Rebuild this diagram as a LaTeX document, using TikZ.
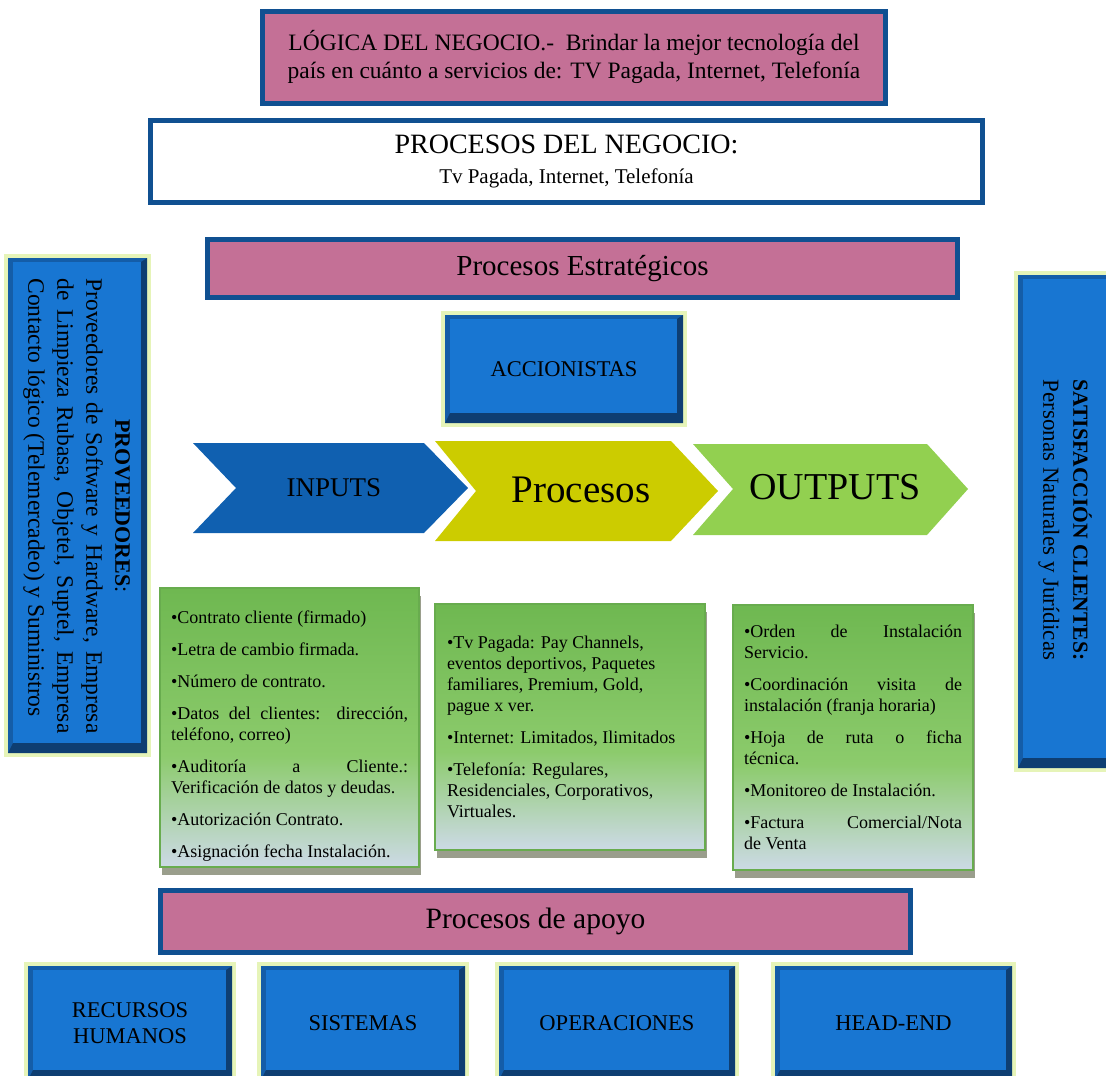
\documentclass[tikz,border=0pt]{standalone}
\usepackage{fontspec}
\setmainfont{Liberation Serif}
\usetikzlibrary{positioning}
\usetikzlibrary{shadows}
\definecolor{frameblue}{HTML}{105091}
\definecolor{pinkfill}{HTML}{C47096}
\definecolor{boxblue}{HTML}{1876D2}
\definecolor{bevmid}{HTML}{145DA8}
\definecolor{bevdark}{HTML}{0E3E72}
\definecolor{glowcol}{HTML}{E6F4B8}
\definecolor{inblue}{HTML}{1060B0}
\definecolor{procyellow}{HTML}{CCCC00}
\definecolor{outgreen}{HTML}{92D050}
\definecolor{topgreen}{HTML}{56A83A}
\definecolor{midgreen}{HTML}{8CCB6C}
\definecolor{fadelav}{HTML}{D6DCF8}
\definecolor{fadeblue}{HTML}{C6ECFF}
\definecolor{listedge}{HTML}{68AC4E}
\definecolor{shadowgray}{HTML}{9A9E8C}
\pgfdeclareverticalshading{greenfade}{100bp}{color(0bp)=(fadeblue); color(22bp)=(fadelav); color(45bp)=(midgreen); color(100bp)=(topgreen)}
\newcommand{\fsz}[2]{\fontsize{#1}{#2}\selectfont}
\newcommand{\bitem}{\par\vspace{11pt}\noindent\textbullet}
\newcommand{\nohyph}{\hyphenpenalty=10000\exhyphenpenalty=10000}
\tikzset{
framed/.style={
  draw=frameblue,
  line width=5pt,
  inner sep=0pt,
  align=center
  },
pinkbox/.style={framed, fill=pinkfill},
whitebox/.style={framed, fill=white},
bevel/.style={
  fill=bevmid,
  inner sep=0pt,
  align=center,
  preaction={draw=glowcol, line width=8pt},
  path picture={
    \fill[bevdark] (path picture bounding box.south west) -- (path picture bounding box.south east)
      -- (path picture bounding box.north east) -- ([shift={(-6pt,-4pt)}]path picture bounding box.north east)
      -- ([shift={(-6pt,10pt)}]path picture bounding box.south east) -- ([shift={(5pt,10pt)}]path picture bounding box.south west) -- cycle;
    \fill[boxblue] ([shift={(5pt,-4pt)}]path picture bounding box.north west) rectangle ([shift={(-6pt,10pt)}]path picture bounding box.south east);
    }
  },
listbox/.style={
  draw=listedge,
  line width=1.5pt,
  shading=greenfade,
  drop shadow={shadow xshift=2pt, shadow yshift=-8pt, fill=shadowgray, opacity=1},
  inner sep=0pt
  }
}
\begin{document}
\begin{tikzpicture}[x=1pt,y=-1pt]
\useasboundingbox (0,0) rectangle (1106,1076);
\clip (0,0) rectangle (1106,1076);
% cabecera
\node[pinkbox, minimum width=623pt, minimum height=92pt, font=\fsz{23.5}{28}] (logica) at (574,57)
  {LÓGICA DEL NEGOCIO.-\ \ Brindar la mejor tecnología del\\país en cuánto a servicios de: TV Pagada, Internet, Telefonía};
\node[whitebox, minimum width=832pt, minimum height=82pt, font=\fsz{21}{30}] (negocio) at (566.5,161.5)
  {{\fsz{28}{30}PROCESOS DEL NEGOCIO:}\\Tv Pagada, Internet, Telefonía};
\node[pinkbox, minimum width=750pt, minimum height=58pt, font=\fsz{29}{32}] (estrat) at (582.5,268.5) {Procesos Estratégicos};
\node[bevel, minimum width=238pt, minimum height=108pt, font=\fsz{22.5}{26}] (accion) at (564,369) {ACCIONISTAS};

% laterales
\node[bevel, minimum width=139pt, minimum height=495pt] (prov) at (77.5,505.5) {};
\node[rotate=-90, text width=455pt, align=justify, font=\fsz{23.5}{29}] (provtxt) at (76.5,506)
  {\makebox[\linewidth]{\fsz{22}{29}\textbf{PROVEEDORES}:}\par\noindent
   Proveedores de Software y Hardware, Empresa\linebreak de Limpieza Rubasa, Objetel, Suptel, Empresa\linebreak Contacto lógico (Telemercadeo) y Suministros};
\node[bevel, minimum width=107pt, minimum height=493pt] (satis) at (1071.5,521.5) {};
\node[rotate=-90, align=center, font=\fsz{23}{30}] (satistxt) at (1065,520)
  {{\fsz{21.5}{30}\textbf{SATISFACCIÓN CLIENTES:}}\\Personas Naturales y Jurídicas};

% flechas
\fill[inblue] (193,443) -- (424,443) -- (468,488) -- (424,533) -- (193,533) -- (236,488) -- cycle;
\fill[procyellow] (435,441) -- (671,441) -- (718,491) -- (671,541) -- (435,541) -- (476,491) -- cycle;
\fill[outgreen] (693,444) -- (927,444) -- (968,489) -- (927,535) -- (693,535) -- (733,489) -- cycle;
\node[font=\fsz{27}{30}] (inputs) at (334,488) {INPUTS};
\node[font=\fsz{39}{42}] (procesos) at (581,490) {Procesos};
\node[font=\fsz{38}{42}] (outputs) at (835,487) {OUTPUTS};

% listas
\node[listbox, minimum width=259pt, minimum height=279pt] (inlist) at (289.5,727.5)
  {\begin{minipage}{237pt}\nohyph\fsz{18}{21}\vspace*{18pt}\noindent\textbullet Contrato cliente (firmado)
   \bitem Letra de cambio firmada.
   \bitem Número de contrato.
   \bitem Datos del clientes: dirección,\linebreak teléfono, correo)
   \bitem Auditoría a Cliente.:\linebreak Verificación de datos y deudas.
   \bitem Autorización Contrato.
   \bitem Asignación fecha Instalación.\end{minipage}};
\node[listbox, minimum width=270pt, minimum height=246pt] (proclist) at (570,727)
  {\begin{minipage}{246pt}\nohyph\raggedright\fsz{18}{21}\noindent\textbullet Tv Pagada: Pay Channels,\\eventos deportivos, Paquetes\\familiares, Premium, Gold,\\pague x ver.
   \bitem Internet: Limitados, Ilimitados
   \bitem Telefonía: Regulares,\\Residenciales, Corporativos,\\Virtuales.\end{minipage}};
\node[listbox, minimum width=240pt, minimum height=265pt] (outlist) at (853,737.5)
  {\begin{minipage}{218pt}\nohyph\fsz{18}{21}\noindent\textbullet Orden de Instalación\linebreak Servicio.
   \bitem Coordinación visita de\linebreak instalación (franja horaria)
   \bitem Hoja de ruta o ficha\linebreak técnica.
   \bitem Monitoreo de Instalación.
   \bitem Factura Comercial/Nota\linebreak de Venta\end{minipage}};

% apoyo
\node[pinkbox, minimum width=750pt, minimum height=62pt, font=\fsz{29.5}{32}] (apoyo) at (535.5,921.5) {Procesos de apoyo};
\node[bevel, minimum width=204pt, minimum height=114pt, font=\fsz{22.5}{26}] (rrhh) at (130,1023) {RECURSOS\\HUMANOS};
\node[bevel, minimum width=204pt, minimum height=114pt, font=\fsz{22.5}{26}] (sistemas) at (363,1023) {SISTEMAS};
\node[bevel, minimum width=236pt, minimum height=114pt, font=\fsz{22.5}{26}] (operac) at (617,1023) {OPERACIONES};
\node[bevel, minimum width=237pt, minimum height=114pt, font=\fsz{22.5}{26}] (headend) at (893.5,1023) {HEAD-END};
\end{tikzpicture}
\end{document}
